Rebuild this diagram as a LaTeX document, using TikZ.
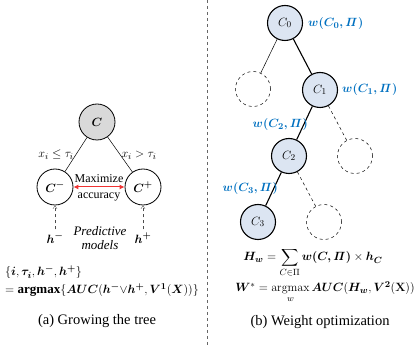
\documentclass[tikz,border=0pt]{standalone}
\usepackage{amsmath,bm}
\usepackage[no-math]{fontspec}
\setmainfont{Liberation Serif}
\usetikzlibrary{arrows.meta}
\definecolor{wblue}{RGB}{0,112,192}
\definecolor{nfill}{RGB}{220,229,242}
\definecolor{cgray}{RGB}{217,217,217}
\definecolor{acc}{RGB}{240,50,50}
\begin{document}
\begin{tikzpicture}[x=1pt,y=-1pt,font=\fontsize{13}{15}\selectfont,
  lnode/.style={circle,draw,line width=0.8pt,minimum size=36pt,inner sep=0pt},
  rnode/.style={circle,draw,line width=1.1pt,fill=nfill,minimum size=35pt,inner sep=0pt},
  dnode/.style={circle,draw,dashed,line width=0.5pt,minimum size=35pt,inner sep=0pt},
  thinedge/.style={line width=0.5pt},
  thickedge/.style={line width=1.1pt},
  dedge/.style={line width=0.5pt,dashed},
  wlab/.style={text=wblue,inner sep=1pt},
  plain/.style={inner sep=0pt,font=\fontsize{12}{14}\selectfont},
  captxt/.style={font=\fontsize{14.5}{17}\selectfont},
  harrow/.style={dashed,line width=0.4pt,draw=black!70,-{Straight Barb[length=3pt,width=4pt]}}
]
\useasboundingbox (0,0) rectangle (415,347);
% left panel
\node[lnode,fill=cgray] (C) at (97,122) {$\bm{C}$};
\node[lnode] (Cm) at (55,187) {$\bm{C}^{\bm{-}}$};
\node[lnode] (Cp) at (143,187) {$\bm{C}^{\bm{+}}$};
\draw[thinedge] (C) -- (Cm);
\draw[thinedge] (C) -- (Cp);
\node (lm) at (56,155) {$x_i\le\tau_i$};
\node (lp) at (139,155) {$x_i>\tau_i$};
\draw[acc,line width=1pt,{Latex[length=5pt,width=5pt]}-{Latex[length=5pt,width=5pt]}] (Cm) -- (Cp);
\node[plain,anchor=base] (ma1) at (99,183) {Maximize};
\node[plain,anchor=base] (ma2) at (99,199) {accuracy};
\node (hm) at (55,238) {$\bm{h}^{\bm{-}}$};
\node (hp) at (143,238) {$\bm{h}^{\bm{+}}$};
\draw[harrow] (hm) -- (Cm);
\draw[harrow] (hp) -- (Cp);
\node[plain,align=center,font=\fontsize{13}{14.5}\selectfont\itshape] (pm) at (100,238) {Predictive\\models};
\node[anchor=base west,inner sep=0pt] (f1) at (5,276) {$\{\bm{i},\bm{\tau_i},\bm{h}^{\bm{-}},\bm{h}^{\bm{+}}\}$};
\node[anchor=base west,inner sep=0pt] (f2) at (5,294) {$=\textbf{argmax}\{\bm{AUC}(\bm{h}^{\bm{-}}{\vee}\bm{h}^{\bm{+}},\bm{V}^{\bm{1}}(\bm{X}))\}$};
\node[captxt] (capa) at (97,321) {(a) Growing the tree};
% divider
\coordinate (dt) at (207,0);
\coordinate (db) at (207,347);
\draw[dashed,line width=0.5pt,black!60] (dt) -- (db);
% right panel
\node[rnode] (C0) at (285,23) {$C_0$};
\node[dnode] (D0) at (253,89) {};
\node[rnode] (C1) at (320,90) {$C_1$};
\node[rnode] (C2) at (289,156) {$C_2$};
\node[dnode] (D1) at (355,156) {};
\node[rnode] (C3) at (258,222) {$C_3$};
\node[dnode] (D2) at (324,222) {};
\draw[thinedge] (C0) -- (D0);
\draw[thickedge] (C0) -- (C1);
\draw[thickedge] (C1) -- (C2);
\draw[dedge] (C1) -- (D1);
\draw[thickedge] (C2) -- (C3);
\draw[dedge] (C2) -- (D2);
\node[wlab,anchor=west] (w0) at (307,24) {$\bm{w(C_0,\mathit{\Pi})}$};
\node[wlab,anchor=west] (w1) at (341,90) {$\bm{w(C_1,\mathit{\Pi})}$};
\node[wlab,anchor=east] (w2) at (309,125) {$\bm{w(C_2,\mathit{\Pi})}$};
\node[wlab,anchor=east] (w3) at (279,189) {$\bm{w(C_3,\mathit{\Pi})}$};
\node[anchor=base,inner sep=0pt,font=\fontsize{12.5}{15}\selectfont] (fh) at (313,261) {$\displaystyle\bm{H_w}=\sum_{C\in\Pi}\bm{w(C,\mathit{\Pi})}\times\bm{h_C}$};
\node[anchor=base,inner sep=0pt] (fw) at (325,292) {$\displaystyle\bm{W}^{*}=\operatorname*{argmax}_{w}\bm{AUC}(\bm{H_w},\bm{V}^{\bm{2}}(\mathbf{X}))$};
\node[captxt] (capb) at (320,322) {(b) Weight optimization};
\end{tikzpicture}
\end{document}
